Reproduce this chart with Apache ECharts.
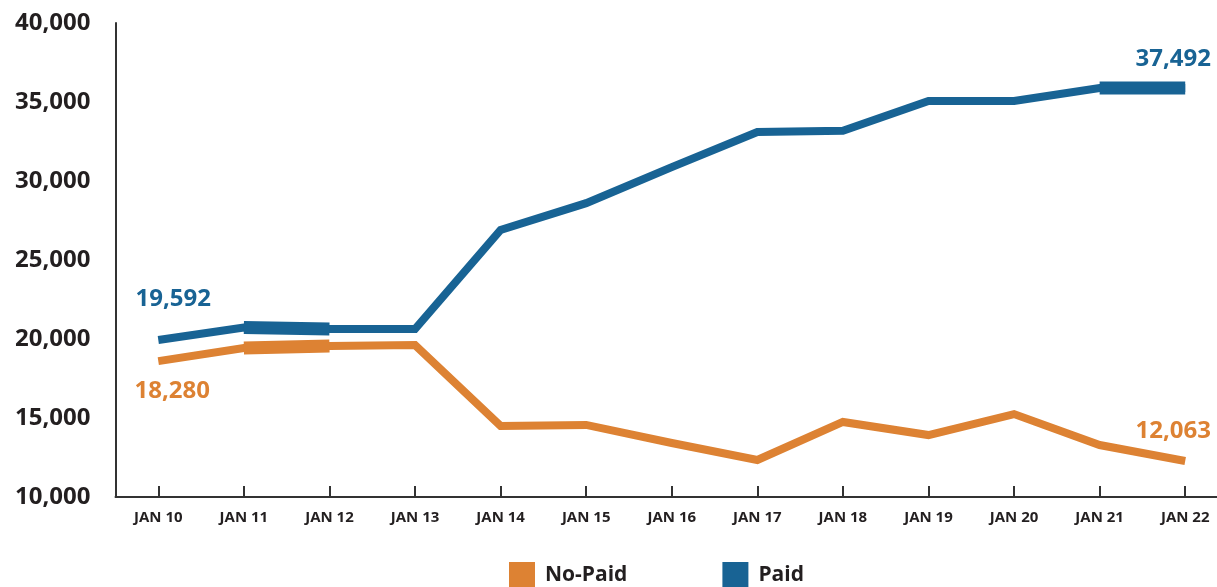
<!DOCTYPE html>
<html>
<head>
<meta charset="utf-8">
<script src="https://cdn.jsdelivr.net/npm/echarts@6/dist/echarts.min.js"></script>
<style>
  html, body { margin: 0; padding: 0; background: #fff; }
  #chart { width: 1217px; height: 587px; }
</style>
</head>
<body>
<div id="chart"></div>
<script>
// categories and values
var days = ['JAN 10', 'JAN 11', 'JAN 12', 'JAN 13', 'JAN 14', 'JAN 15', 'JAN 16',
            'JAN 17', 'JAN 18', 'JAN 19', 'JAN 20', 'JAN 21', 'JAN 22'];
var paid =   [19940, 20720, 20630, 20630, 26900, 28600, 30880,
              33100, 33180, 35060, 35060, 35880, 35880];
var noPaid = [18600, 19430, 19560, 19620, 14500, 14560, 13420,
              12340, 14750, 13920, 15250, 13290, 12280];
var yTicks = [10000, 15000, 20000, 25000, 30000, 35000, 40000];

// the printed end values (as shown on the chart)
var paidNotes =   ['19,592', '37,492'];
var noPaidNotes = ['18,280', '12,063'];

// stretches drawn with the heavier stroke
var paidThick =   [[1, 2], [11, 12]];
var noPaidThick = [[1, 2]];

var BLUE = '#186394';
var ORANGE = '#dd8233';
var INK = '#231f20';

function thickData(values, ranges) {
    var out = values.map(function () { return null; });
    ranges.forEach(function (r) {
        for (var i = r[0]; i <= r[1]; i++) out[i] = values[i];
    });
    return out;
}

function withNotes(values, notes, color, firstOffset, lastOffset) {
    return values.map(function (v, i) {
        if (i === 0 || i === values.length - 1) {
            return {
                value: v,
                label: {
                    show: true,
                    position: 'inside',
                    formatter: i === 0 ? notes[0] : notes[1],
                    offset: i === 0 ? firstOffset : lastOffset,
                    color: color,
                    fontFamily: 'Open Sans',
                    fontWeight: 'bold',
                    fontSize: 24
                }
            };
        }
        return v;
    });
}

var chart = echarts.init(document.getElementById('chart'));

var option = {
    animation: false,
    grid: { left: 115.5, right: -11, top: 23, bottom: 90, outerBoundsMode: 'none', containLabel: false },
    legend: {
        data: ['No-Paid', 'Paid'],
        left: 509,
        top: 562,
        padding: 0,
        itemWidth: 26,
        itemHeight: 26,
        itemGap: 95,
        icon: 'rect',
        textStyle: {
            color: INK,
            fontFamily: 'Open Sans',
            fontWeight: 'bold',
            fontSize: 21,
            padding: [0, 0, 0, 5]
        }
    },
    xAxis: {
        type: 'category',
        data: days,
        boundaryGap: true,
        axisLine: { lineStyle: { color: '#333', width: 2 } },
        axisTick: { show: true, inside: true, length: 11, alignWithLabel: true,
                    lineStyle: { color: '#333', width: 2 } },
        axisLabel: { color: INK, fontFamily: 'Open Sans', fontWeight: 'bold',
                     fontSize: 15, margin: 13, interval: 0 },
        splitLine: { show: false }
    },
    yAxis: {
        type: 'value',
        min: yTicks[0],
        max: yTicks[yTicks.length - 1],
        interval: 5000,
        axisLine: { show: true, lineStyle: { color: '#333', width: 2 } },
        axisTick: { show: false },
        splitLine: { show: false },
        axisLabel: {
            color: INK, fontFamily: 'Open Sans', fontWeight: 'bold', fontSize: 24, margin: 25,
            formatter: function (v) { return v.toLocaleString('en-US'); }
        }
    },
    series: [
        {
            name: 'No-Paid', type: 'line',
            data: withNotes(noPaid, noPaidNotes, ORANGE, [14, 30], [-12, -30]),
            color: ORANGE,
            symbol: 'circle', symbolSize: 0.1, showSymbol: true,
            lineStyle: { width: 8, color: ORANGE, join: 'miter' },
            z: 2
        },
        {
            name: 'Paid', type: 'line',
            data: withNotes(paid, paidNotes, BLUE, [15, -41], [-12, -29]),
            color: BLUE,
            symbol: 'circle', symbolSize: 0.1, showSymbol: true,
            lineStyle: { width: 8, color: BLUE, join: 'miter' },
            z: 3
        },
        {
            name: 'No-Paid heavy', type: 'line',
            data: thickData(noPaid, noPaidThick),
            symbol: 'none', connectNulls: false,
            lineStyle: { width: 13, color: ORANGE, cap: 'butt' },
            z: 2
        },
        {
            name: 'Paid heavy', type: 'line',
            data: thickData(paid, paidThick),
            symbol: 'none', connectNulls: false,
            lineStyle: { width: 13, color: BLUE, cap: 'butt' },
            z: 3
        }
    ]
};

chart.setOption(option);
</script>
</body>
</html>
